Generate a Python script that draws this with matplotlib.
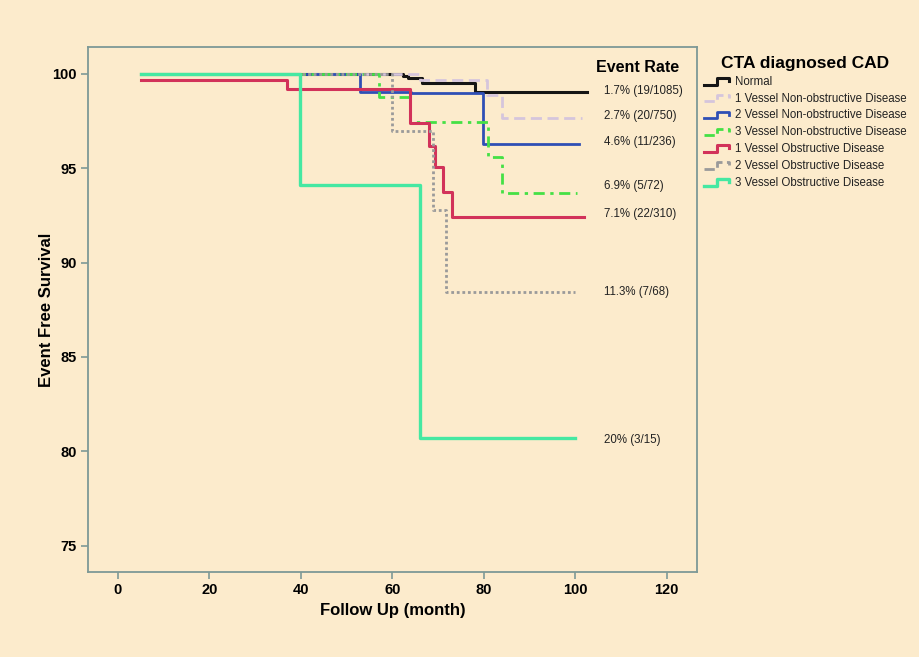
import matplotlib
matplotlib.use('Agg')
import matplotlib.pyplot as plt
from matplotlib.legend_handler import HandlerBase
from matplotlib.lines import Line2D

plt.rcParams['font.family'] = ['Liberation Sans', 'DejaVu Sans']

# Kaplan-Meier step data (time in months, event free survival %)
normal_t = [5, 62.3, 63.5, 66.5, 78.0, 102.5]
normal_s = [100, 99.9, 99.8, 99.5, 99.03, 99.03]

nonobs1_t = [5, 66.0, 80.8, 84.0, 101.5]
nonobs1_s = [100, 99.7, 98.9, 97.65, 97.65]

nonobs2_t = [5, 52.9, 64.0, 79.8, 100.8]
nonobs2_s = [100, 99.05, 99.0, 96.27, 96.27]

nonobs3_t = [5, 57.0, 63.8, 80.9, 84.0, 100.3]
nonobs3_s = [100, 98.8, 97.47, 95.6, 93.7, 93.7]

obs1_t = [5, 37.0, 63.8, 68.0, 69.3, 71.0, 73.0, 101.9]
obs1_s = [99.68, 99.2, 97.38, 96.2, 95.08, 93.76, 92.43, 92.43]

obs2_t = [5, 59.9, 68.9, 71.8, 100.0]
obs2_s = [100, 97.0, 92.8, 88.45, 88.45]

obs3_t = [5, 39.9, 66.0, 100.0]
obs3_s = [100, 94.1, 80.68, 80.68]

labels = ['Normal', '1 Vessel Non-obstructive Disease', '2 Vessel Non-obstructive Disease',
          '3 Vessel Non-obstructive Disease', '1 Vessel Obstructive Disease',
          '2 Vessel Obstructive Disease', '3 Vessel Obstructive Disease']

event_rates = ['1.7% (19/1085)', '2.7% (20/750)', '4.6% (11/236)', '6.9% (5/72)',
               '7.1% (22/310)', '11.3% (7/68)', '20% (3/15)']
event_rate_y = [99.1, 97.75, 96.4, 94.05, 92.55, 88.45, 80.6]

x_ticks = [0, 20, 40, 60, 80, 100, 120]
y_ticks = [75, 80, 85, 90, 95, 100]


class StepHandler(HandlerBase):
    def create_artists(self, legend, orig_handle, xdescent, ydescent,
                       width, height, fontsize, trans):
        xs = [0, 0.5, 0.5, 0.95, 0.95]
        ys = [0.05, 0.05, 0.8, 0.8, 0.45]
        line = Line2D([x * width - xdescent for x in xs],
                      [y * height - ydescent for y in ys],
                      color=orig_handle.get_color(),
                      linestyle=orig_handle.get_linestyle(),
                      linewidth=orig_handle.get_linewidth())
        line.set_transform(trans)
        return [line]


bg = '#fcebcc'
spine_col = '#7d9996'

fig = plt.figure(figsize=(9.19, 6.57), dpi=100, facecolor=bg)
ax = fig.add_axes([0.0958, 0.1294, 0.6626, 0.7991], facecolor=bg)

series = [
    (normal_t, normal_s, '#151515', '-', 2.2),
    (nonobs1_t, nonobs1_s, '#d5c5dc', (0, (4, 2)), 2.0),
    (nonobs2_t, nonobs2_s, '#2f4fb5', '-', 2.0),
    (nonobs3_t, nonobs3_s, '#45e045', (0, (4, 2, 1.2, 2)), 2.0),
    (obs1_t, obs1_s, '#d2325a', '-', 2.2),
    (obs2_t, obs2_s, '#9a9a9a', (0, (1, 1)), 2.0),
    (obs3_t, obs3_s, '#45e8a2', '-', 2.4),
]

handles = []
for (t, s, c, ls, lw), lab in zip(series, labels):
    h, = ax.step(t, s, where='post', color=c, linestyle=ls, linewidth=lw, label=lab)
    handles.append(h)

ax.set_xlim(-6.5, 126.6)
ax.set_ylim(73.6, 101.43)
ax.set_xticks(x_ticks)
ax.set_yticks(y_ticks)
for sp in ax.spines.values():
    sp.set_color(spine_col)
    sp.set_linewidth(1.3)
ax.tick_params(direction='out', length=5, width=1.2, color=spine_col,
               labelsize=10.5, pad=3)
for lab in ax.get_xticklabels() + ax.get_yticklabels():
    lab.set_fontweight('bold')

ax.set_xlabel('Follow Up (month)', fontsize=12, fontweight='bold', labelpad=4)
ax.set_ylabel('Event Free Survival', fontsize=12, fontweight='bold', labelpad=-1)

ax.text(104.5, 100.35, 'Event Rate', fontsize=11.5, fontweight='bold', ha='left', va='center')
for txt, y in zip(event_rates, event_rate_y):
    ax.text(106.3, y, txt, fontsize=8.3, ha='left', va='center', color='#222222')

leg = fig.legend(handles=handles, labels=labels, loc='upper left',
                 bbox_to_anchor=(0.766, 0.915), frameon=False,
                 handler_map={Line2D: StepHandler()},
                 title='CTA diagnosed CAD', fontsize=8.3,
                 title_fontproperties={'weight': 'bold', 'size': 12.5},
                 handlelength=2.3, handleheight=0.8, handletextpad=0.4,
                 labelspacing=0.42, borderaxespad=0, borderpad=0)
for t in leg.get_texts():
    t.set_color('#222222')

fig.savefig('out.png', dpi=100, facecolor=bg)
